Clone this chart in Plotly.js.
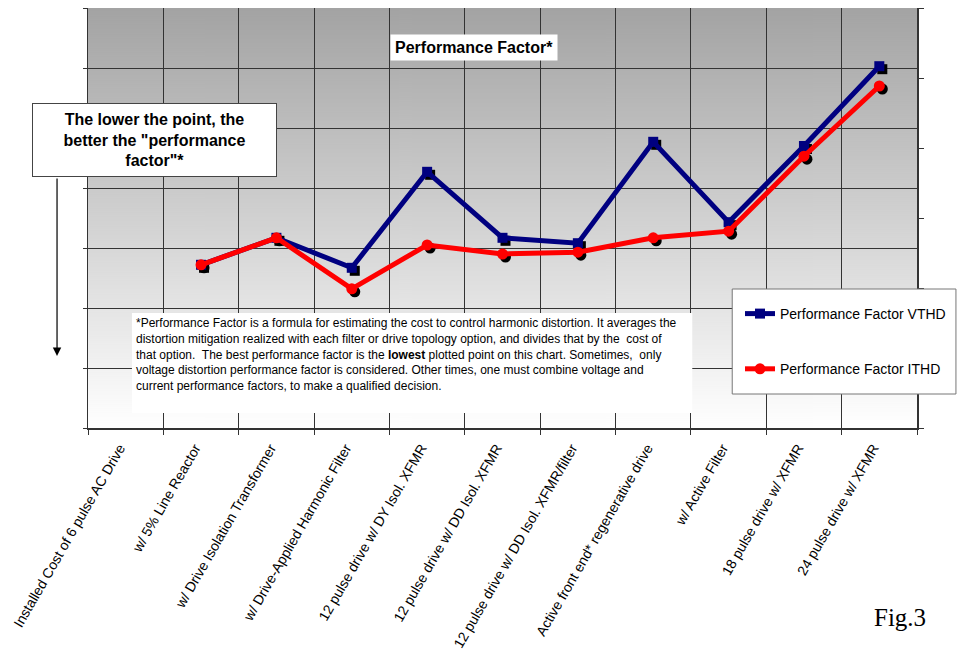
<!DOCTYPE html>
<html>
<head>
<meta charset="utf-8">
<script src="https://cdn.plot.ly/plotly-3.0.1.min.js"></script>
<style>html,body{margin:0;padding:0;background:#fff;}#chart{width:958px;height:652px;}</style>
</head>
<body>
<div id="chart"></div>
<script>
// ---- data ----
const categories = [
  "Installed Cost of 6 pulse AC Drive",
  "w/ 5% Line Reactor",
  "w/ Drive Isolation Transformer",
  "w/ Drive-Applied Harmonic Filter",
  "12 pulse drive w/ DY Isol. XFMR",
  "12 pulse drive w/ DD Isol. XFMR",
  "12 pulse drive w/ DD Isol. XFMR/filter",
  "Active front end* regenerative drive",
  "w/ Active Filter",
  "18 pulse drive w/ XFMR",
  "24 pulse drive w/ XFMR"
];
const vthd = [null, 2.72, 3.17, 2.67, 4.27, 3.17, 3.08, 4.77, 3.43, 4.70, 6.03];
const ithd = [null, 2.72, 3.17, 2.32, 3.05, 2.90, 2.93, 3.17, 3.28, 4.53, 5.70];
const seriesNames = ["Performance Factor VTHD", "Performance Factor ITHD"];
const chartTitle = "Performance Factor*";
const noteText = "The lower the point, the<br>better the \"performance<br>factor\"*";
const footnoteLines = [
  "*Performance Factor is a formula for estimating the cost to control harmonic distortion. It averages the",
  "distortion mitigation realized with each filter or drive topology option, and divides that by the  cost of",
  "that option.  The best performance factor is the <b>lowest</b> plotted point on this chart. Sometimes,  only",
  "voltage distortion performance factor is considered. Other times, one must combine voltage and",
  "current performance factors, to make a qualified decision."
];
const figLabel = "Fig.3";

// ---- geometry helpers ----
const W = 958, H = 652;
const M = {l: 88, r: 40, t: 8, b: 224};
const PW = W - M.l - M.r, PH = H - M.t - M.b;
const px = x => (x - M.l) / PW;
const py = y => (M.t + PH - y) / PH;
const nCat = categories.length;
const catPx = PW / nCat;
const yMax = 7;
const shadowDx = 3 / catPx;       // shadow offset (category units)
const shadowDy = 3 / (PH / yMax); // shadow offset (value units)

// gradient background
const cv = document.createElement('canvas');
cv.width = 4; cv.height = 420;
const ctx = cv.getContext('2d');
const g = ctx.createLinearGradient(0, 0, 0, 420);
g.addColorStop(0, '#a3a3a3');
g.addColorStop(1, '#ffffff');
ctx.fillStyle = g; ctx.fillRect(0, 0, 4, 420);
const bgURL = cv.toDataURL('image/png');

const FONT = 'Liberation Sans, Arial, sans-serif';
const NAVY = '#000080', RED = '#ff0000';

const traces = [
  // shadows on hidden main axes
  {x: categories, y: vthd, xaxis: 'x', yaxis: 'y', mode: 'markers', showlegend: false, hoverinfo: 'skip',
   marker: {symbol: 'square', size: 10, color: '#000000'}},
  {x: categories, y: ithd, xaxis: 'x', yaxis: 'y', mode: 'markers', showlegend: false, hoverinfo: 'skip',
   marker: {symbol: 'circle', size: 11, color: '#000000'}},
  // real series
  {x: categories, y: vthd, xaxis: 'x2', yaxis: 'y2', mode: 'lines+markers', name: seriesNames[0],
   legendgroup: 'a', line: {color: NAVY, width: 5}, marker: {symbol: 'square', size: 10, color: NAVY}},
  {x: categories, y: ithd, xaxis: 'x2', yaxis: 'y2', mode: 'lines+markers', name: seriesNames[1],
   legendgroup: 'b', line: {color: RED, width: 5}, marker: {symbol: 'circle', size: 11, color: RED}},
  // empty carrier for the right axis
  {x: [], y: [], xaxis: 'x2', yaxis: 'y3', mode: 'markers', showlegend: false, hoverinfo: 'skip'}
];

const annotations = [
  {xref: 'paper', yref: 'paper', x: px(474), y: py(47.5), xanchor: 'center', yanchor: 'middle',
   text: '<b>' + chartTitle + '</b>', showarrow: false, bgcolor: '#ffffff', borderpad: 4,
   font: {family: FONT, size: 16, color: '#000'}},
  {xref: 'paper', yref: 'paper', x: px(57), y: py(356), ax: 0, ay: -179, text: '', showarrow: true,
   arrowhead: 2, arrowsize: 1.4, arrowwidth: 1.2, arrowcolor: '#000'},
  {xref: 'paper', yref: 'paper', x: px(154.5), y: py(140), xanchor: 'center', yanchor: 'middle',
   text: '<b>' + noteText + '</b>', showarrow: false, bgcolor: '#ffffff', bordercolor: '#444444',
   borderwidth: 1, borderpad: 1, width: 241, height: 70, align: 'center', valign: 'middle',
   font: {family: FONT, size: 16, color: '#000'}},
  {xref: 'paper', yref: 'paper', x: px(901), y: py(617), xanchor: 'center', yanchor: 'middle',
   text: figLabel, showarrow: false, font: {family: 'Liberation Serif, Times New Roman, serif', size: 25, color: '#000'}}
];
footnoteLines.forEach((t, i) => {
  annotations.push({xref: 'paper', yref: 'paper', x: px(134), y: py(323 + i * 15.8), xanchor: 'left', yanchor: 'middle',
    text: t, showarrow: false, font: {family: FONT, size: 12, color: '#000'}});
});

const shapes = [
  {type: 'rect', xref: 'paper', yref: 'paper', x0: px(132), x1: px(693), y0: py(413), y1: py(313),
   fillcolor: '#ffffff', line: {width: 0}, layer: 'above'},
  {type: 'rect', xref: 'paper', yref: 'paper', x0: px(733), x1: px(957), y0: py(394), y1: py(289),
   fillcolor: '#ffffff', line: {width: 1, color: '#777777'}, layer: 'above'}
];

const layout = {
  width: W, height: H, margin: M,
  paper_bgcolor: '#ffffff', plot_bgcolor: 'rgba(0,0,0,0)',
  showlegend: true,
  legend: {x: px(740), y: py(298), xanchor: 'left', yanchor: 'top', bgcolor: 'rgba(0,0,0,0)', borderwidth: 0,
    tracegroupgap: 34, traceorder: 'grouped', font: {family: FONT, size: 14, color: '#000'}},
  images: [{source: bgURL, xref: 'paper', yref: 'paper', x: 0, y: 1, sizex: 1, sizey: 1,
    sizing: 'stretch', xanchor: 'left', yanchor: 'top', layer: 'below'}],
  xaxis: {type: 'category', categoryarray: categories, visible: false,
    range: [-0.5 - shadowDx, nCat - 0.5 - shadowDx], fixedrange: true},
  yaxis: {visible: false, range: [shadowDy, yMax + shadowDy], fixedrange: true},
  xaxis2: {type: 'category', categoryarray: categories, overlaying: 'x', anchor: 'y2', side: 'bottom',
    range: [-0.5, nCat - 0.5], tickson: 'boundaries', ticks: 'outside', ticklen: 5, tickcolor: '#333',
    showgrid: true, gridcolor: '#333333', gridwidth: 1, showline: true, linecolor: '#333333', linewidth: 1.5,
    tickangle: -60, ticklabelstandoff: 5, ticklabelshift: -6,
    tickfont: {family: FONT, size: 14, color: '#000'}, automargin: false},
  yaxis2: {overlaying: 'y', anchor: 'x2', side: 'left', range: [0, yMax], dtick: 1,
    ticks: 'outside', ticklen: 4, tickcolor: '#333', showticklabels: false,
    showgrid: true, gridcolor: '#333333', gridwidth: 1, showline: true, linecolor: '#333333', linewidth: 1.5,
    zeroline: false},
  yaxis3: {overlaying: 'y', anchor: 'x2', side: 'right', range: [0, 6], dtick: 1,
    ticks: 'outside', ticklen: 5, tickcolor: '#333', showticklabels: false, showgrid: false,
    showline: true, linecolor: '#333333', linewidth: 1.5, zeroline: false},
  annotations: annotations,
  shapes: shapes
};

Plotly.newPlot('chart', traces, layout, {displayModeBar: false, staticPlot: true});
</script>
</body>
</html>
